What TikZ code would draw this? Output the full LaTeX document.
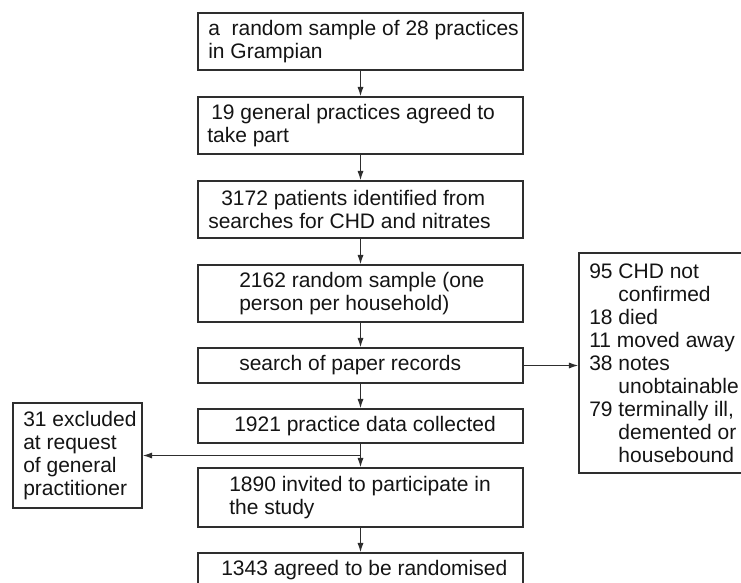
\documentclass[tikz,border=0pt]{standalone}
\usepackage{fontspec}
\setmainfont{Liberation Sans}
\usetikzlibrary{arrows.meta,fit}
\definecolor{linec}{HTML}{2E2E2E}
\definecolor{txtc}{HTML}{141414}
\newcommand{\ind}{\hphantom{95\ }}
\begin{document}
\begin{tikzpicture}[x=0.75pt,y=-0.75pt,
  box/.style={draw=linec,line width=1.05pt,inner sep=0pt},
  txt/.style={inner sep=0pt,anchor=west,align=left,text=txtc,
    font=\fontsize{15.75pt}{17.25pt}\selectfont},
  arr/.style={draw=linec,line width=0.95pt,-{Latex[length=7pt,width=4.6pt]}}]
\useasboundingbox (0,0) rectangle (741,582);
% main column
\node[box,fit={(198,13) (523,70)}] (b1) {};
\node[box,fit={(198,97) (523,154)}] (b2) {};
\node[box,fit={(198,181) (523,238)}] (b3) {};
\node[box,fit={(198,265) (523,322)}] (b4) {};
\node[box,fit={(198,348) (523,383)}] (b5) {};
\node[box,fit={(198,409) (523,443)}] (b6) {};
\node[box,fit={(198,468) (523,527)}] (b7) {};
\node[box,fit={(198,553) (523,588)}] (b8) {};
% side boxes
\node[box,fit={(13,403) (142,508)}] (l) {};
\node[box,fit={(579,253) (746,473)}] (r) {};
% texts
\node[txt] (t1) at (208,41.5) {a\ \ random sample of 28 practices\\in Grampian};
\node[txt] (t2) at (207,125.5) {\hspace*{3pt}19 general practices agreed to\\take part};
\node[txt] (t3) at (208,209.5) {\hspace*{9.75pt}3172 patients identified from\\searches for CHD and nitrates};
\node[txt] (t4) at (239,293.5) {2162 random sample (one\\person per household)};
\node[txt] (t5) at (239,365.5) {search of paper records};
\node[txt] (t6) at (234,426) {1921 practice data collected};
\node[txt] (t7) at (229,497.5) {1890 invited to participate in\\the study};
\node[txt] (t8) at (221,570.5) {1343 agreed to be randomised};
\node[txt] (tl) at (23,455.5) {31 excluded\\at request\\of general\\practitioner};
\node[txt] (tr) at (589,363) {95 CHD not\\\ind confirmed\\18 died\\11 moved away\\38 notes\\\ind unobtainable\\79 terminally ill,\\\ind demented or\\\ind housebound};
% connectors
\draw[arr] (b1.south) -- (b2.north);
\draw[arr] (b2.south) -- (b3.north);
\draw[arr] (b3.south) -- (b4.north);
\draw[arr] (b4.south) -- (b5.north);
\draw[arr] (b5.south) -- (b6.north);
\draw[arr] (b6.south) -- (b7.north);
\draw[arr] (b7.south) -- (b8.north);
\draw[arr] (b5.east) -- (b5.east -| r.west);
\coordinate (j) at (b6.south |- l.east);
\draw[arr] (j) -- (l.east);
\end{tikzpicture}
\end{document}
